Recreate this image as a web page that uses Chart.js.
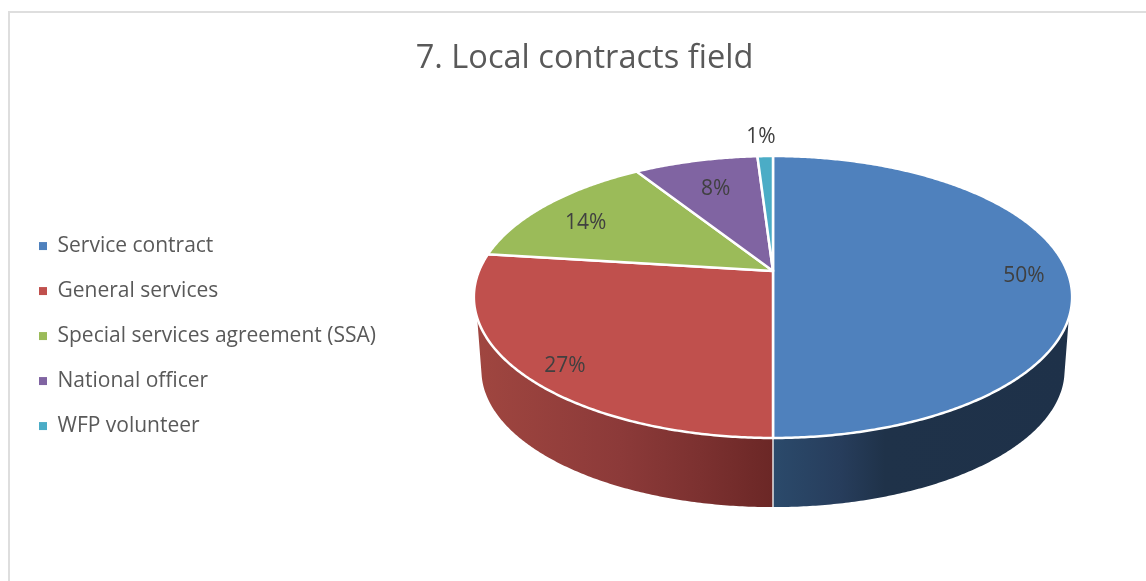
<!DOCTYPE html>
<html>
<head>
<meta charset="utf-8">
<title>7. Local contracts field</title>
<script src="https://cdn.jsdelivr.net/npm/chart.js@4"></script>
<style>
  html, body { margin: 0; padding: 0; background: #fff; overflow: hidden; }
  #frame { position: absolute; left: 8px; top: 11px; right: -4px; bottom: -4px; border: 2px solid #dedede; }
  canvas { position: absolute; left: 0; top: 0; }
</style>
</head>
<body>
<div id="frame"></div>
<canvas id="pieChart" width="1146" height="581"></canvas>
<script>
const categories = ['Service contract', 'General services', 'Special services agreement (SSA)', 'National officer', 'WFP volunteer'];
const shares = [50, 27, 14, 8, 1];
const sliceColors = ['#4f81bd', '#c0504d', '#9bbb59', '#8064a2', '#4bacc6'];

// Perspective disc: maps a library arc angle onto the screen (cx, apex y, x radius, y terms)
const FONT = '"Open Sans", sans-serif';
const topRim = { cx: 773, b: 271, a: 86.2, x: 294, c: -0.1844 };
const bottomRim = { cx: 773, b: 344.8, a: 68.8, x: 286.6, c: -0.1844 };
const deg = Math.PI / 180;
const wallRange = { start: 18.9 * deg, end: 161.1 * deg };
const wallBottomRange = { start: 13.5 * deg, end: 166.5 * deg };

// Wall shading per slice, only the two front slices show a wall
const wallStops = {
    0: [[773, '#2b4a6b'], [840, '#273d5c'], [885, '#1f3249'], [1072, '#1e3149']],
    1: [[474, '#a04640'], [620, '#8c3a39'], [700, '#7c3130'], [773, '#6b2726']]
};
const labelRadius = [0.85, 0.85, 0.82, 0.75, 1.2];
const labelNudge = [[1, 5], [1, 10], [1, 7], [3, 4], [-3, 0]];

function project(rim, angle, radius = 1) {
    const s = Math.sin(angle) * radius;
    const d = 1 + rim.c * s;
    return { x: rim.cx + rim.x * Math.cos(angle) * radius / d, y: (rim.a * s + rim.b) / d };
}

function traceRim(ctx, rim, from, to) {
    const steps = Math.max(2, Math.ceil(Math.abs(to - from) / (0.5 * deg)));
    for (let i = 0; i <= steps; i++) {
        const p = project(rim, from + (to - from) * i / steps);
        ctx.lineTo(p.x, p.y);
    }
}

function bottomAngle(angle) {
    const f = (angle - wallRange.start) / (wallRange.end - wallRange.start);
    return wallBottomRange.start + f * (wallBottomRange.end - wallBottomRange.start);
}

const pie3d = {
    id: 'pie3d',
    beforeDatasetDraw(chart) {
        const ctx = chart.ctx;
        const arcs = chart.getDatasetMeta(0).data;

        // Side walls
        arcs.forEach((arc, i) => {
            const lo = Math.max(arc.startAngle, wallRange.start);
            const hi = Math.min(arc.endAngle, wallRange.end);
            if (hi <= lo || !wallStops[i]) return;
            const stops = wallStops[i];
            const x0 = stops[0][0], x1 = stops[stops.length - 1][0];
            const grad = ctx.createLinearGradient(x0, 0, x1, 0);
            stops.forEach(s => grad.addColorStop((s[0] - x0) / (x1 - x0), s[1]));
            ctx.beginPath();
            traceRim(ctx, topRim, lo, hi);
            traceRim(ctx, bottomRim, bottomAngle(hi), bottomAngle(lo));
            ctx.closePath();
            ctx.fillStyle = grad;
            ctx.fill();
        });

        // White seam where two walls meet
        arcs.forEach(arc => {
            if (arc.startAngle <= wallRange.start || arc.startAngle >= wallRange.end) return;
            const a = project(topRim, arc.startAngle);
            const b = project(bottomRim, bottomAngle(arc.startAngle));
            ctx.beginPath();
            ctx.moveTo(a.x, a.y);
            ctx.lineTo(b.x, b.y);
            ctx.strokeStyle = '#e4e4e4';
            ctx.lineWidth = 1.5;
            ctx.stroke();
        });

        // Top faces
        arcs.forEach((arc, i) => {
            ctx.beginPath();
            ctx.moveTo(topRim.cx, topRim.b);
            traceRim(ctx, topRim, arc.startAngle, arc.endAngle);
            ctx.closePath();
            ctx.fillStyle = sliceColors[i];
            ctx.fill();
            ctx.strokeStyle = '#fff';
            ctx.lineWidth = 2.5;
            ctx.lineJoin = 'round';
            ctx.stroke();
        });
        return false;
    },
    afterDatasetsDraw(chart) {
        const ctx = chart.ctx;
        ctx.font = '21px ' + FONT;
        ctx.fillStyle = '#404040';
        ctx.textAlign = 'center';
        ctx.textBaseline = 'middle';
        chart.getDatasetMeta(0).data.forEach((arc, i) => {
            const p = project(topRim, (arc.startAngle + arc.endAngle) / 2, labelRadius[i]);
            ctx.fillText(shares[i] + '%', p.x + labelNudge[i][0], p.y + labelNudge[i][1]);
        });
    }
};

new Chart(document.getElementById('pieChart'), {
    type: 'pie',
    data: {
        labels: categories,
        datasets: [{
            data: shares,
            backgroundColor: sliceColors,
            borderWidth: 0
        }]
    },
    options: {
        responsive: false,
        animation: false,
        layout: { padding: { left: 15, right: -8 } },
        plugins: {
            title: {
                display: true,
                text: '7. Local contracts field',
                color: '#595959',
                font: { family: FONT, size: 32.6, weight: 'normal' },
                padding: { top: 39, bottom: 13 }
            },
            legend: {
                position: 'left',
                fullSize: false,
                labels: {
                    color: '#595959',
                    font: { family: FONT, size: 21 },
                    boxWidth: 8,
                    boxHeight: 8,
                    padding: 24
                }
            },
            tooltip: { enabled: false }
        }
    },
    plugins: [pie3d]
});
</script>
</body>
</html>
